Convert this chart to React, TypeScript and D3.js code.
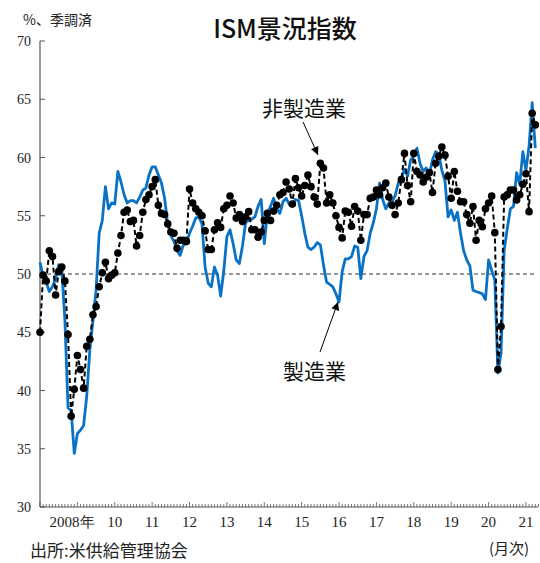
import React from 'react';
import * as d3 from 'd3';

const yearLabels = ['2008年', '10', '11', '12', '13', '14', '15', '16', '17', '18', '19', '20', '21'];
const yearValues = [2008, 2010, 2011, 2012, 2013, 2014, 2015, 2016, 2017, 2018, 2019, 2020, 2021];
const yTicks = [30, 35, 40, 45, 50, 55, 60, 65, 70];

// ISM manufacturing PMI, monthly from 2008-01 to 2021-04
const manufacturing = [
  51.0, 49.8, 49.3, 48.5, 48.9, 49.6, 50.8, 50.3, 46.0, 38.5, 38.3, 34.6,
  36.3, 36.6, 37.0, 39.5, 43.5, 46.0, 48.6, 53.5, 54.6, 57.5, 55.6, 56.1,
  56.0, 58.8, 57.9, 56.8, 56.1, 56.3, 56.3, 56.1, 56.6, 57.2, 57.4, 58.5,
  59.2, 59.2, 58.5, 57.8, 56.5, 54.3, 53.3, 52.8, 52.0, 51.6, 52.5, 52.6,
  53.5, 54.1, 54.8, 54.9, 54.3, 50.6, 49.2, 48.9, 50.6, 49.9, 48.1, 50.3,
  53.2, 53.8, 52.6, 51.2, 50.9, 52.4, 54.4, 54.6, 54.7, 54.9, 55.8, 56.4,
  52.6, 55.2, 55.8, 56.5, 55.6, 55.2, 56.2, 56.5, 56.0, 55.9, 56.4, 56.3,
  55.0, 53.5, 52.3, 52.1, 52.3, 52.7, 52.5, 50.8, 49.3, 49.1, 48.9, 48.3,
  47.6, 50.2, 51.3, 51.3, 51.5, 52.4, 52.3, 49.6, 51.5, 52.0, 53.5, 54.4,
  55.6, 57.8, 56.4, 55.6, 56.1, 56.2, 56.7, 57.8, 58.2, 59.0, 58.4, 59.8,
  60.1, 60.8, 59.5, 58.8, 59.1, 58.5, 59.8, 60.5, 60.3, 58.9, 58.0, 54.9,
  55.5, 54.6, 55.3, 53.5, 52.0, 51.2, 50.7, 48.6, 48.5, 48.4, 48.3, 47.8,
  51.2, 50.3, 49.5, 41.5, 43.2, 52.0, 53.9, 55.6, 55.8, 58.7, 57.7, 60.5,
  58.9, 61.0, 64.7, 60.8,
];

// ISM non-manufacturing index, monthly from 2008-01 to 2021-04
const nonManufacturing = [
  45.0, 49.9, 49.4, 52.0, 51.5, 48.2, 50.2, 50.6, 49.4, 44.8, 37.8, 40.1,
  43.0, 41.8, 40.2, 43.8, 44.4, 46.5, 47.2, 48.9, 50.1, 51.0, 49.6, 49.9,
  50.1, 51.8, 53.3, 55.3, 55.5, 54.5, 54.6, 52.4, 53.3, 55.3, 56.4, 56.8,
  57.5, 58.1, 55.9, 55.2, 55.1, 54.3, 53.6, 53.5, 52.2, 52.9, 52.9, 52.8,
  57.3, 56.1, 55.6, 55.3, 55.0, 53.7, 52.1, 52.1, 53.8, 54.4, 54.0, 55.6,
  55.9, 56.7, 56.1, 54.8, 55.1, 54.5, 54.9, 55.35, 53.8, 53.8, 53.15, 53.6,
  54.6, 55.2, 54.6, 55.4, 55.9, 56.8, 57.0, 57.9, 57.3, 56.0, 58.2, 57.4,
  56.7, 57.6, 58.5, 57.5, 56.6, 56.0, 59.5, 59.1, 56.1, 56.8, 56.1, 55.0,
  54.0, 53.1, 55.4, 55.3, 54.1, 55.8, 55.4, 52.9, 55.1, 55.1, 56.5, 56.6,
  57.2, 56.8, 57.4, 57.8, 56.6, 55.9, 55.1, 56.1, 58.1, 60.35, 57.6, 56.2,
  60.35, 58.8, 58.5, 57.9, 58.3, 58.7, 57.0, 59.5, 60.1, 60.9, 60.2, 58.4,
  56.5, 58.8, 57.1, 56.2, 56.2, 55.1, 54.35, 55.8, 52.9, 54.6, 54.05, 55.6,
  56.1, 56.7, 53.55, 41.8, 45.5, 56.6, 56.8, 57.2, 57.2, 56.35, 56.8, 57.7,
  58.6, 55.35, 63.8, 62.8,
];

const serif = '"Liberation Serif", "Times New Roman", serif';
const jp = '"Noto Sans CJK JP", "Noto Sans", sans-serif';

export default function App() {
  const W = 540;
  const H = 563;
  const n = manufacturing.length;
  const x = d3.scaleLinear().domain([0, n - 1]).range([40, 535.3]);
  const y = d3.scaleLinear().domain([30, 70]).range([507, 41]);
  const line = d3
    .line<number>()
    .x((_, i) => x(i))
    .y((d) => y(d));

  const months = d3.range(0, n + 1);

  return (
    <svg
      width={W}
      height={H}
      style={{ position: 'absolute', left: 0, top: 0, background: '#fff' }}
    >
      <defs>
        <marker
          id="arrow"
          viewBox="0 0 10 10"
          refX="10"
          refY="5"
          markerWidth="10"
          markerHeight="8"
          markerUnits="userSpaceOnUse"
          orient="auto"
        >
          <path d="M0,0 L10,5 L0,10 z" fill="#000" />
        </marker>
      </defs>

      {/* title */}
      <text x={285} y={38} textAnchor="middle" fontFamily={jp} fontSize={25} fontWeight={500} fill="#111">
        ISM景況指数
      </text>
      <text x={23} y={25} fontFamily={jp} fontSize={14} fill="#222">
        %、季調済
      </text>

      {/* y axis */}
      <line x1={40} x2={40} y1={y(70)} y2={y(30)} stroke="#555" strokeWidth={1.2} />
      {yTicks.map((t) => (
        <g key={t}>
          <line x1={40} x2={45} y1={y(t)} y2={y(t)} stroke="#555" strokeWidth={1} />
          <text x={31} y={y(t) + 5} textAnchor="end" fontFamily={serif} fontSize={14} fill="#222">
            {t}
          </text>
        </g>
      ))}

      {/* x axis */}
      <line x1={40} x2={538} y1={y(30)} y2={y(30)} stroke="#555" strokeWidth={1.2} />
      {months.map((m) => (
        <line
          key={m}
          x1={x(m)}
          x2={x(m)}
          y1={y(30)}
          y2={y(30) - (m % 12 === 0 ? 5 : 3)}
          stroke="#555"
          strokeWidth={0.8}
        />
      ))}
      {yearLabels.map((lab, k) => {
        const idx = (yearValues[k] - 2008) * 12;
        const px = k === 0 ? x(10.3) : x(idx);
        return (
          <text
            key={lab}
            x={px}
            y={527}
            textAnchor="middle"
            fontFamily={serif}
            fontSize={15}
            fill="#222"
          >
            {lab}
          </text>
        );
      })}

      {/* reference line at 50 */}
      <line
        x1={40}
        x2={535.3}
        y1={y(50)}
        y2={y(50)}
        stroke="#333"
        strokeWidth={1}
        strokeDasharray="4,3"
      />

      {/* manufacturing */}
      <path d={line(manufacturing) || ''} fill="none" stroke="#0A72C4" strokeWidth={2.8} strokeLinejoin="round" />

      {/* non-manufacturing */}
      <path
        d={line(nonManufacturing) || ''}
        fill="none"
        stroke="#000"
        strokeWidth={2}
        strokeDasharray="5,3"
      />
      {nonManufacturing.map((v, i) => (
        <circle key={i} cx={x(i)} cy={y(v)} r={3.8} fill="#000" />
      ))}

      {/* annotations */}
      <text x={262} y={116} fontFamily={jp} fontSize={21} fill="#111">
        非製造業
      </text>
      <line x1={303} x2={318} y1={122} y2={155} stroke="#000" strokeWidth={1} markerEnd="url(#arrow)" />
      <text x={283} y={379} fontFamily={jp} fontSize={21} fill="#111">
        製造業
      </text>
      <line x1={320} x2={338} y1={352} y2={302} stroke="#000" strokeWidth={1} markerEnd="url(#arrow)" />

      {/* footer */}
      <text x={30} y={557} fontFamily={jp} fontSize={17} fill="#222">
        出所:米供給管理協会
      </text>
      <text x={489} y={554} fontFamily={jp} fontSize={15} fill="#222">
        (月次)
      </text>
    </svg>
  );
}
